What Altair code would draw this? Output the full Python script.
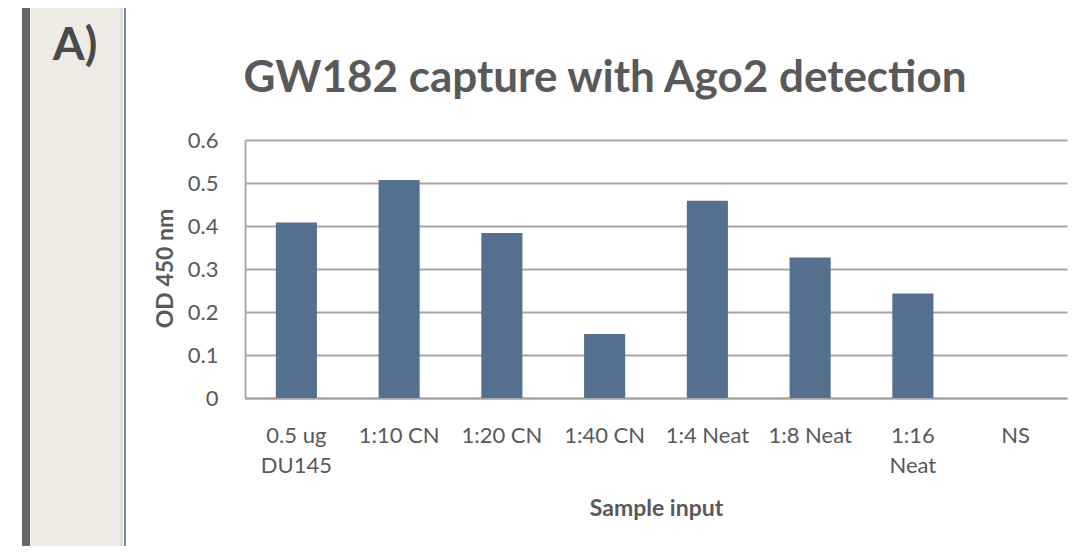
import altair as alt
import pandas as pd

categories = ["0.5 ug|DU145", "1:10 CN", "1:20 CN", "1:40 CN", "1:4 Neat", "1:8 Neat", "1:16|Neat", "NS"]
od_values = [0.408, 0.507, 0.384, 0.149, 0.459, 0.327, 0.243, 0.0]
y_ticks = [0, 0.1, 0.2, 0.3, 0.4, 0.5, 0.6]

chart_title = "GW182 capture with Ago2 detection"
panel_label = "A)"
x_title = "Sample input"
y_title = "OD 450 nm"

df = pd.DataFrame({"sample": categories, "od": od_values})

FONT = "Lato"
TEXT_COLOR = "#595959"
GRID = "#A6A6A6"
BAR = "#55708F"

one = alt.Data(values=[{"k": 1}])

bars = alt.Chart(df).mark_bar(color=BAR).encode(
    x=alt.X(
        "sample:N",
        sort=categories,
        scale=alt.Scale(paddingInner=0.6, paddingOuter=0.3),
        axis=alt.Axis(
            title=x_title,
            labelAngle=0,
            labelExpr="split(datum.label, '|')",
            labelFont=FONT,
            labelFontSize=22,
            labelColor=TEXT_COLOR,
            labelPadding=27,
            labelLineHeight=30,
            labelBaseline="top",
            ticks=False,
            tickSize=0,
            domain=True,
            domainColor=GRID,
            domainWidth=1.8,
            titleFont=FONT,
            titleFontSize=23,
            titleFontWeight="bold",
            titleColor=TEXT_COLOR,
            titleBaseline="alphabetic",
            titleAlign="center",
            titleX=411,
            titleY=117,
        ),
    ),
    y=alt.Y(
        "od:Q",
        scale=alt.Scale(domain=[0, 0.6], nice=False),
        axis=alt.Axis(
            title=y_title,
            values=y_ticks,
            format="~g",
            labelFont=FONT,
            labelFontSize=22,
            labelColor=TEXT_COLOR,
            labelPadding=27,
            ticks=False,
            tickSize=0,
            domain=True,
            domainColor=GRID,
            domainWidth=1.8,
            grid=True,
            gridColor=GRID,
            gridWidth=1.8,
            titleFont=FONT,
            titleFontSize=23,
            titleFontWeight="bold",
            titleColor=TEXT_COLOR,
            titleAngle=270,
            titleBaseline="alphabetic",
            titleAlign="center",
            titleX=-73,
            titleY=128,
        ),
    ),
)

dark_bar = alt.Chart(one).mark_rect(color="#666666").encode(
    x=alt.value(-223), x2=alt.value(-215), y=alt.value(-132), y2=alt.value(406)
)
panel = alt.Chart(one).mark_rect(color="#EEEBE4").encode(
    x=alt.value(-215), x2=alt.value(-122), y=alt.value(-132), y2=alt.value(406)
)
panel_shadow = alt.Chart(one).mark_rect(color="#E2DED7").encode(
    x=alt.value(-125), x2=alt.value(-122), y=alt.value(-132), y2=alt.value(406)
)
border = alt.Chart(one).mark_rect(color="#7189A8").encode(
    x=alt.value(-121), x2=alt.value(-119), y=alt.value(-132), y2=alt.value(406)
)
label_a = alt.Chart(one).mark_text(
    font=FONT, fontSize=46, fontWeight="bold", color="#4A4A4A",
    align="center", baseline="alphabetic"
).encode(x=alt.value(-170), y=alt.value(-80), text=alt.value(panel_label))

title_text = alt.Chart(one).mark_text(
    font=FONT, fontSize=44, fontWeight="bold", color=TEXT_COLOR,
    align="center", baseline="alphabetic"
).encode(x=alt.value(360), y=alt.value(-48), text=alt.value(chart_title))

chart = alt.layer(
    dark_bar, panel, panel_shadow, border, label_a, title_text, bars
).properties(
    width=822,
    height=258,
    autosize=alt.AutoSizeParams(type="none"),
    padding={"left": 237, "top": 132, "right": 8, "bottom": 148},
    background="white",
).configure_view(stroke=None)

chart.save("out.html", embed_options={"renderer": "svg", "actions": False})
